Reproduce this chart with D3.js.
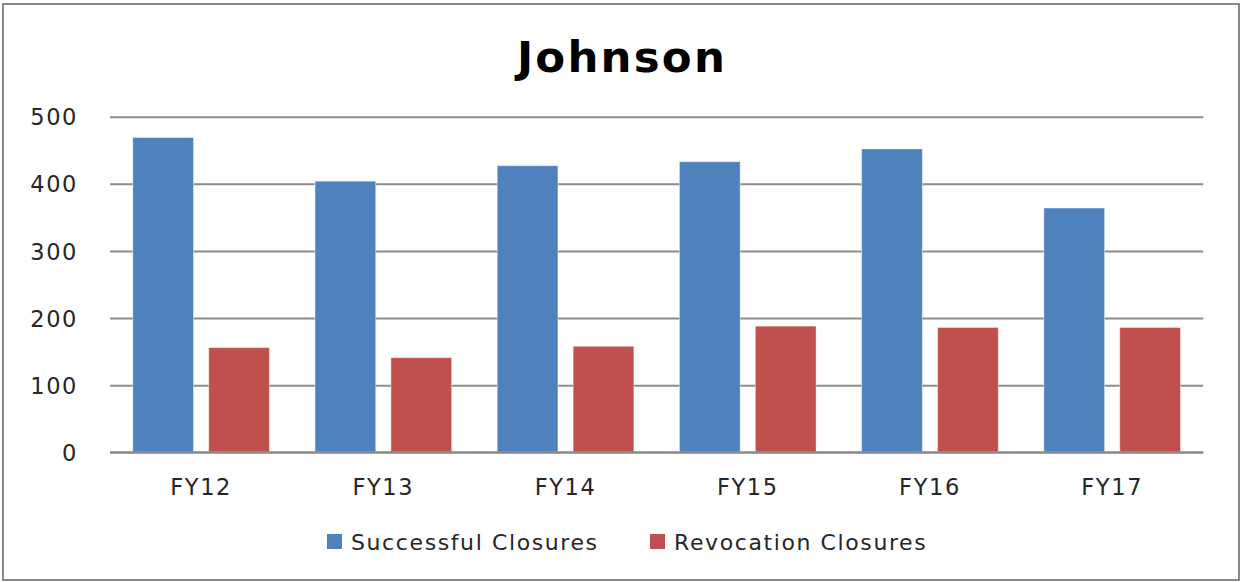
<!DOCTYPE html>
<html>
<head>
<meta charset="utf-8">
<script src="https://cdn.jsdelivr.net/npm/d3@7"></script>
<style>
  html, body { margin: 0; padding: 0; background: #fff; }
  svg { display: block; }
  text { font-family: "DejaVu Sans", sans-serif; }
</style>
</head>
<body>
<svg id="chart" width="1241" height="582"></svg>
<script>
const title = "Johnson";
const categories = ["FY12", "FY13", "FY14", "FY15", "FY16", "FY17"];
const seriesNames = ["Successful Closures", "Revocation Closures"];
const successful = [469, 404, 427, 433, 452, 364];
const revocation = [156, 141, 158, 188, 186, 186];
const seriesColors = ["#4F81BD", "#C0504D"];
const yTicks = [0, 100, 200, 300, 400, 500];

const seriesValues = [successful, revocation];
const rows = categories.map((c, i) => ({
  cat: c,
  vals: seriesNames.map((s, j) => ({ series: s, value: seriesValues[j][i], color: seriesColors[j] }))
}));

const svg = d3.select("#chart");
const W = 1241, H = 582;

// chart border
svg.append("rect")
  .attr("x", 3).attr("y", 4).attr("width", 1236).attr("height", 576)
  .attr("fill", "#fff").attr("stroke", "#868686").attr("stroke-width", 2);

const plot = { left: 110, right: 1203.3, top: 116.7, bottom: 452.3 };

const y = d3.scaleLinear().domain([0, 500]).range([plot.bottom, plot.top]);
const x0 = d3.scaleBand().domain(categories).range([plot.left, plot.right])
  .paddingInner(0.25).paddingOuter(0.125);
const x1 = d3.scaleBand().domain(seriesNames).range([0, x0.bandwidth()]).paddingInner(0.2);

// gridlines
const yAxis = d3.axisLeft(y).tickValues(yTicks).tickSize(-(plot.right - plot.left)).tickPadding(0).tickFormat(d3.format("d"));
const gy = svg.append("g").attr("transform", `translate(${plot.left},0)`).call(yAxis);
gy.select(".domain").remove();
gy.selectAll(".tick line").attr("stroke", "#8c8c8c").attr("stroke-width", 2);
gy.selectAll(".tick text")
  .attr("x", -32).attr("dy", "0.36em")
  .attr("text-anchor", "end")
  .attr("fill", "#262626")
  .style("font-size", "22.5px").style("letter-spacing", "1.6px");

// bars
const groups = svg.append("g").selectAll("g").data(rows).join("g")
  .attr("transform", d => `translate(${x0(d.cat)},0)`);
groups.selectAll("rect").data(d => d.vals).join("rect")
  .attr("x", d => x1(d.series))
  .attr("width", x1.bandwidth())
  .attr("y", d => y(d.value))
  .attr("height", d => y(0) - y(d.value))
  .attr("fill", d => d.color)
  .attr("stroke", "rgba(255,255,255,0.45)")
  .attr("stroke-width", 1);

// baseline
svg.append("line")
  .attr("x1", plot.left).attr("x2", plot.right)
  .attr("y1", y(0)).attr("y2", y(0))
  .attr("stroke", "#8c8c8c").attr("stroke-width", 2);

// x axis labels
const xAxis = d3.axisBottom(x0).tickSize(0).tickPadding(0);
const gx = svg.append("g").attr("transform", `translate(0,${plot.bottom})`).call(xAxis);
gx.select(".domain").remove();
gx.selectAll(".tick text")
  .attr("y", 43).attr("dy", 0)
  .attr("fill", "#262626")
  .style("font-size", "22.5px").style("letter-spacing", "1.6px");

// title
svg.append("text")
  .attr("x", 622).attr("y", 71.7)
  .attr("text-anchor", "middle")
  .attr("fill", "#000")
  .style("font-size", "43.5px").style("font-weight", "bold").style("letter-spacing", "2.2px")
  .text(title);

// legend
const legendItems = [
  { name: seriesNames[0], color: seriesColors[0], x: 327 },
  { name: seriesNames[1], color: seriesColors[1], x: 650 }
];
const lg = svg.append("g").selectAll("g").data(legendItems).join("g")
  .attr("transform", d => `translate(${d.x},534)`);
lg.append("rect").attr("width", 15).attr("height", 15).attr("fill", d => d.color);
lg.append("text")
  .attr("x", 24).attr("y", 15.5)
  .attr("fill", "#262626")
  .style("font-size", "22px").style("letter-spacing", "1.6px")
  .text(d => d.name);
</script>
</body>
</html>
